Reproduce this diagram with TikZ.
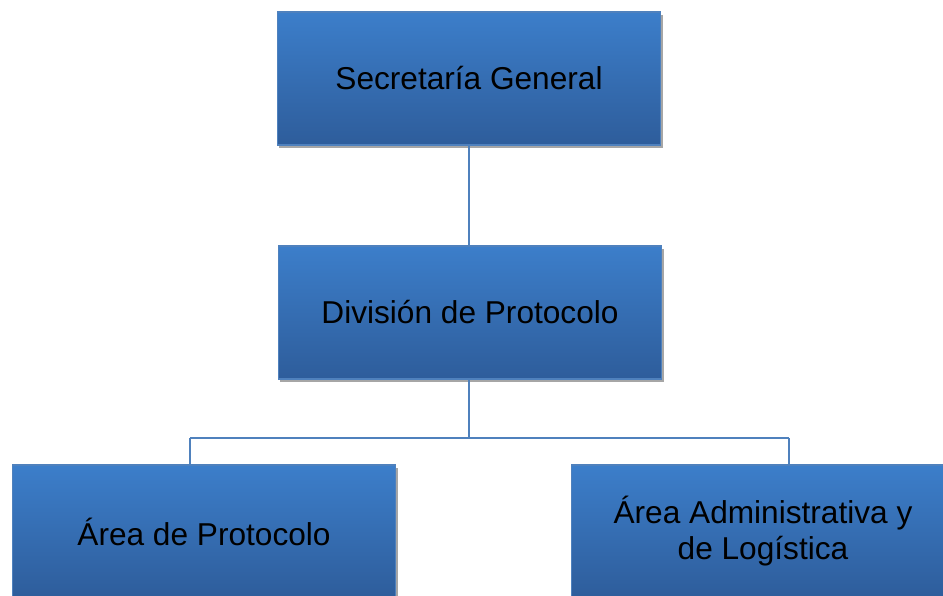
\documentclass[tikz,border=0pt]{standalone}
\usepackage{fontspec}
\setmainfont{Liberation Sans}
\usetikzlibrary{shadows, positioning}
\definecolor{boxtop}{RGB}{60,126,202}
\definecolor{boxbottom}{RGB}{46,93,155}
\definecolor{boxline}{RGB}{79,129,189}

\begin{document}
\begin{tikzpicture}[x=0.02cm, y=-0.02cm,
  unit/.style={draw=boxline, line width=0.6pt, rectangle, top color=boxtop, bottom color=boxbottom,
    minimum width=7.68cm, minimum height=2.66cm, align=center, font=\fontsize{18}{20.5}\selectfont,
    drop shadow={shadow xshift=0.04cm, shadow yshift=-0.06cm, fill=black!35, opacity=1}},
  link/.style={draw=boxline, line width=1.1pt}]

\useasboundingbox (0,0) rectangle (943,595);

% Nodes
\node (secretaria) [unit] at (469,78.5) {Secretaría General};
\node (division) [unit] at (470,312.5) {División de Protocolo};
\node (protocolo) [unit] at (204,531.5) {Área de Protocolo};
\node (logistica) [unit] at (763,531.5) {Área Administrativa y\\de Logística};

% Lines
\coordinate (split) at (469,438);
\coordinate (leftend) at (190,438);
\coordinate (rightend) at (789,438);
\draw[link] (secretaria.south) -- (secretaria.south |- division.north);
\draw[link] (division.south -| split) -- (split);
\draw[link] (leftend) -- (rightend);
\draw[link] (leftend) -- (leftend |- protocolo.north);
\draw[link] (rightend) -- (rightend |- logistica.north);

\end{tikzpicture}
\end{document}
